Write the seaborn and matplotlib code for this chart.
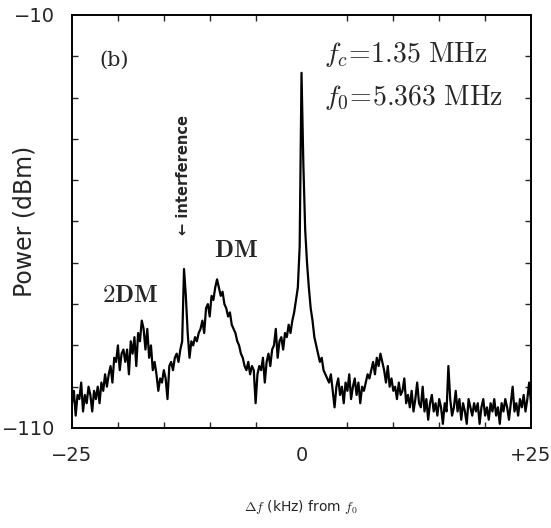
import numpy as np
import pandas as pd
import matplotlib
matplotlib.use("Agg")
import matplotlib.pyplot as plt
import seaborn as sns

# Spectrum analyser sweep: offset from f0 in kHz, 0.2 kHz per bin
sweep_start, sweep_stop, sweep_bins = -25.0, 25.0, 251

# Measured power (dBm) per bin, 10 bins (2 kHz) per row
power_dbm = [
    -104, -101, -107, -102, -103, -99, -106, -102, -104, -100,   # -25.0
    -102, -106, -101, -103, -100, -104, -99, -101, -97, -100,    # -23.0
    -97, -95, -99, -93, -94, -90, -96, -92, -91, -94,            # -21.0
    -91, -97, -89, -92, -88, -95, -87, -89, -84, -86,            # -19.0
    -91, -86, -93, -90, -96, -94, -97, -101, -98, -99,           # -17.0
    -96, -98, -103, -95, -94, -96, -93, -92, -94, -91,           # -15.0
    -89, -71.5, -78, -87, -93, -89, -90, -88, -89, -87,          # -13.0
    -86, -84, -87, -81, -80, -83, -78, -79, -76, -74,            # -11.0
    -76, -78, -77, -80, -81, -83, -82, -85, -86, -87,            # -9.0
    -89, -90, -92, -93, -95, -96, -94, -97, -95, -96,            # -7.0
    -104, -97, -95, -96, -93, -99, -94, -92, -95, -91,           # -5.0
    -90, -86, -93, -89, -88, -91, -87, -88, -85, -87,            # -3.0
    -84, -82, -79, -76, -66, -24, -46, -62, -70, -76,            # -1.0
    -81, -84, -88, -90, -92, -94, -93, -96, -97, -98,            # 1.0
    -99, -97, -101, -105, -100, -98, -102, -100, -104, -99,      # 3.0
    -101, -97, -103, -100, -98, -102, -99, -104, -100, -101,     # 5.0
    -99, -97, -98, -96, -94, -97, -93, -95, -92, -94,            # 7.0
    -96, -99, -95, -100, -98, -101, -100, -103, -99, -102,       # 9.0
    -101, -98, -104, -102, -105, -101, -106, -103, -99, -104,    # 11.0
    -105, -100, -106, -103, -108, -104, -102, -106, -104, -107,  # 13.0
    -103, -105, -109, -104, -106, -95, -103, -107, -105, -101,   # 15.0
    -106, -103, -108, -104, -106, -109, -103, -105, -107, -104,  # 17.0
    -106, -104, -109, -105, -103, -107, -105, -108, -104, -106,  # 19.0
    -103, -107, -105, -109, -104, -106, -103, -105, -108, -104,  # 21.0
    -100, -106, -104, -107, -103, -105, -102, -106, -103, -99,   # 23.0
    -104,                                                        # 25.0
]

x_ticks = [-25, 0, 25]
x_tick_labels = ["\u221225", "0", "+25"]
y_ticks = [-110, -10]
y_tick_labels = ["\u2212110", "\u221210"]

df = pd.DataFrame({
    "offset_khz": np.linspace(sweep_start, sweep_stop, sweep_bins),
    "power_dbm": power_dbm,
})

sns.set_style("ticks")
plt.rcParams["mathtext.fontset"] = "cm"
plt.rcParams["font.family"] = ["DejaVu Sans"]

fig = plt.figure(figsize=(5.51, 5.28), dpi=100)
ax = fig.add_axes([0.1307, 0.1894, 0.833, 0.7822])

sns.lineplot(data=df, x="offset_khz", y="power_dbm", color="black",
             linewidth=1.6, ax=ax, estimator=None, sort=False)

ax.set_xlim(-25, 25)
ax.set_ylim(-110, -10)

tick_font = {"family": ["Liberation Sans Narrow", "DejaVu Sans"], "size": 14}
ax.set_xticks(x_ticks)
ax.set_xticklabels(x_tick_labels, fontdict=tick_font)
ax.set_yticks(y_ticks)
ax.set_yticklabels(y_tick_labels, fontdict=tick_font)
ax.set_xticks(np.arange(-25, 26, 5), minor=True)
ax.set_yticks(np.arange(-110, -9, 10), minor=True)
ax.tick_params(which="major", direction="in", length=0)
ax.tick_params(axis="x", which="major", pad=13)
ax.tick_params(axis="y", which="major", pad=12)
ax.tick_params(which="minor", direction="in", length=4, width=1.0,
               top=True, right=True)

for side in ax.spines.values():
    side.set_visible(True)
    side.set_linewidth(1.4)
    side.set_color("black")

ax.set_xlabel(r"$\Delta f$ (kHz) from $f_0$", fontsize=10)
ax.xaxis.set_label_coords(0.5, -0.17)
ax.set_ylabel("Power (dBm)", fontsize=17)
ax.yaxis.set_label_coords(-0.078, 0.5)

# Panel tag and carrier frequencies
ax.text(0.06, 0.89, "(b)", transform=ax.transAxes, fontsize=15,
        family="DejaVu Serif", va="center", ha="left")
ax.text(0.55, 0.905, r"$f_c\!=\!1.35\ \mathrm{MHz}$", transform=ax.transAxes,
        fontsize=20, va="center", ha="left")
ax.text(0.55, 0.80, r"$f_0\!=\!5.363\ \mathrm{MHz}$", transform=ax.transAxes,
        fontsize=20, va="center", ha="left")

# Sideband labels
ax.text(-7.1, -67, r"$\mathbf{DM}$", fontsize=18, ha="center", va="center")
ax.text(-18.7, -77.8, r"$\mathbf{2DM}$", fontsize=18, ha="center", va="center")
ax.text(-12.9, -48.7, "\u2190 interference", rotation=90, fontsize=10.5,
        fontweight="bold", ha="center", va="center")

fig.savefig("out.png", dpi=100)
